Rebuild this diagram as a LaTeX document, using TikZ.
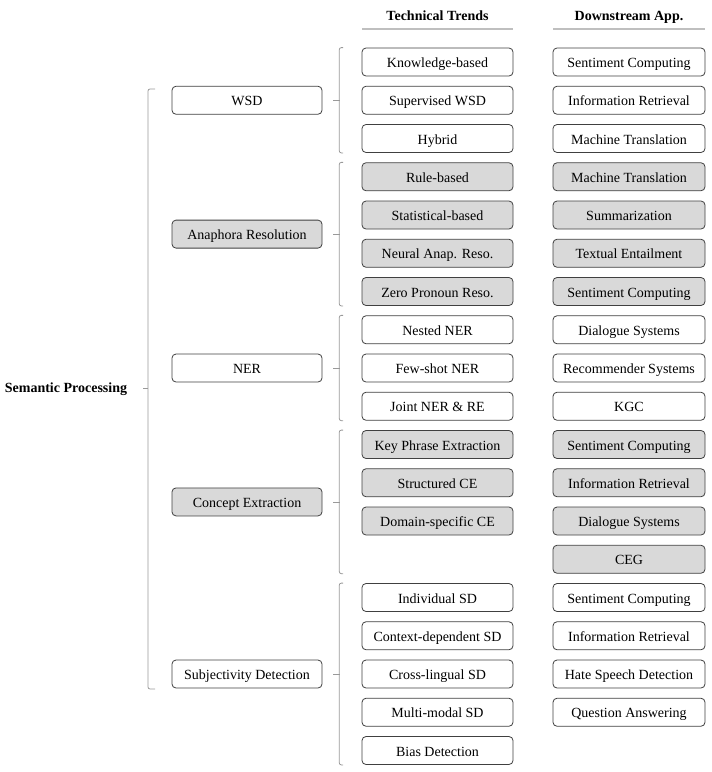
\documentclass[tikz,border=0pt]{standalone}
\usepackage{fontspec}
\setmainfont{Liberation Serif}
\usetikzlibrary{calc}
\definecolor{boxborder}{HTML}{404040}
\definecolor{boxgray}{HTML}{D9D9D9}
\definecolor{brgray}{HTML}{999999}
\definecolor{ulgray}{HTML}{BFBFBF}
\begin{document}
\begin{tikzpicture}[x=1pt,y=-1pt]
\tikzset{
  box/.style={draw=boxborder, line width=0.8pt, rounded corners=4pt,
    minimum height=28pt, inner sep=0pt, anchor=center,
    text height=14.2pt, text depth=3pt,
    font=\fontsize{14}{16}\selectfont},
  wbox/.style={box, fill=white},
  gbox/.style={box, fill=boxgray},
  techw/.style={minimum width=151pt},
  appw/.style={minimum width=152pt},
  lvw/.style={minimum width=150pt},
  brline/.style={draw=brgray, line width=0.8pt, rounded corners=2pt},
  hdr/.style={font=\fontsize{14}{16}\selectfont\bfseries, inner sep=0pt, anchor=base},
  uline/.style={draw=ulgray, line width=2pt},
}
\useasboundingbox (0,0) rectangle (712,772);
% headers
\node[hdr] (h1) at (437.5,20.5) {Technical Trends};
\node[hdr] (h2) at (629,20.5) {Downstream App.};
\coordinate (u1a) at (362,29); \coordinate (u1b) at (513,29);
\coordinate (u2a) at (553,29); \coordinate (u2b) at (705,29);
\draw[uline] (u1a) -- (u1b);
\draw[uline] (u2a) -- (u2b);
% technical trends
\foreach \i/\t/\s in {0/Knowledge-based/wbox, 1/Supervised WSD/wbox, 2/Hybrid/wbox,
  3/Rule-based/gbox, 4/Statistical-based/gbox, 5/Neural Anap. Reso./gbox, 6/Zero Pronoun Reso./gbox,
  7/Nested NER/wbox, 8/Few-shot NER/wbox, 9/Joint NER \& RE/wbox,
  10/Key Phrase Extraction/gbox, 11/Structured CE/gbox, 12/Domain-specific CE/gbox,
  14/Individual SD/wbox, 15/Context-dependent SD/wbox, 16/Cross-lingual SD/wbox,
  17/Multi-modal SD/wbox, 18/Bias Detection/wbox}
  \node[\s, techw] (t\i) at (437.5, 62+38.25*\i) {\t};
% downstream apps
\foreach \i/\t/\s in {0/Sentiment Computing/wbox, 1/Information Retrieval/wbox, 2/Machine Translation/wbox,
  3/Machine Translation/gbox, 4/Summarization/gbox, 5/Textual Entailment/gbox, 6/Sentiment Computing/gbox,
  7/Dialogue Systems/wbox, 8/Recommender Systems/wbox, 9/KGC/wbox,
  10/Sentiment Computing/gbox, 11/Information Retrieval/gbox, 12/Dialogue Systems/gbox, 13/CEG/gbox,
  14/Sentiment Computing/wbox, 15/Information Retrieval/wbox, 16/Hate Speech Detection/wbox,
  17/Question Answering/wbox}
  \node[\s, appw] (a\i) at (629, 62+38.25*\i) {\t};
% level 1
\node[wbox, lvw] (wsd) at (247, 100.25) {WSD};
\node[gbox, lvw] (ana) at (247, 234.1) {Anaphora Resolution};
\node[wbox, lvw] (ner) at (247, 368) {NER};
\node[gbox, lvw] (ce) at (247, 501.9) {Concept Extraction};
\node[wbox, lvw] (sd) at (247, 674) {Subjectivity Detection};
% root
\node[font=\fontsize{14}{16}\selectfont\bfseries, inner sep=0pt, anchor=base] (root) at (66,392.8) {Semantic Processing};
% main bracket
\coordinate (mt) at (155,89);
\coordinate (mb) at (155,689);
\draw[brline] (mt) -- (148,89) -- (148,689) -- (mb);
\coordinate (mm) at (143,388.5);
\draw[brline] (mm) -- (148,388.5);
% level-2 brackets
\foreach \n/\a/\b in {wsd/t0/t2, ana/t3/t6, ner/t7/t9, ce/t10/a13, sd/t14/t18}{
  \draw[brline] (343,0 |- \a.north) -- (339.3,0 |- \a.north) -- (339.3,0 |- \b.south) -- (343,0 |- \b.south);
  \draw[brline] ($(\n.east)+(11,0)$) -- ($(\n.east)+(17.3,0)$);
}
\end{tikzpicture}
\end{document}
